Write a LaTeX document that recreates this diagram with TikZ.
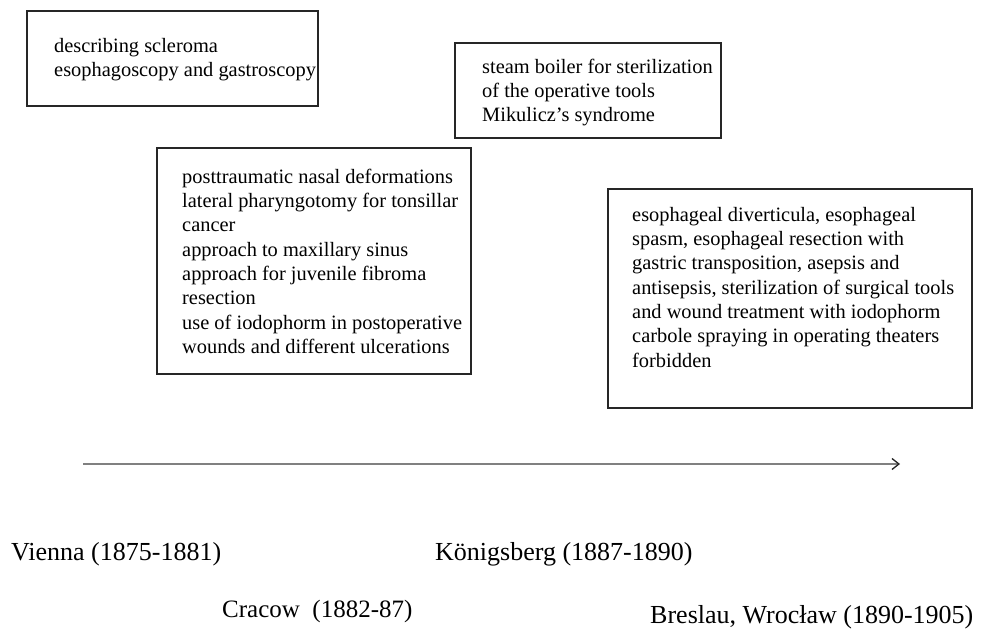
\documentclass[tikz,border=0pt]{standalone}
\usepackage{fontspec}
\setmainfont{Liberation Serif}
\usetikzlibrary{arrows.meta}
\tikzset{
  boxframe/.style={draw=black!85, line width=1.2pt, rectangle, inner sep=0pt},
  boxtext/.style={anchor=north west, inner sep=0pt, align=left,
    font=\fontsize{20.4}{24.3}\selectfont},
  placetext/.style={anchor=base west, inner sep=0pt,
    font=\fontsize{26}{30}\selectfont},
  timeline/.style={draw=black!50, line width=2pt,
    -{Straight Barb[length=7pt,width=11pt,line width=1.3pt,color=black!85]}}
}
\begin{document}
\begin{tikzpicture}[x=1pt,y=-1pt]
\useasboundingbox (0,0) rectangle (983,636);
% boxes
\node[boxframe, minimum width=291pt, minimum height=95pt] (b1) at (172.5,58.5) {};
\node[boxframe, minimum width=266pt, minimum height=95pt] (b2) at (588,90.5) {};
\node[boxframe, minimum width=314pt, minimum height=226pt] (b3) at (314,261) {};
\node[boxframe, minimum width=364pt, minimum height=219pt] (b4) at (790,298.5) {};
% box texts
\node[boxtext] (t1) at (54,35) {\strut describing scleroma\\esophagoscopy and gastroscopy};
\node[boxtext] (t2) at (482,56) {\strut steam boiler for sterilization\\of the operative tools\\Mikulicz’s syndrome};
\node[boxtext] (t3) at (182,166) {\strut posttraumatic nasal deformations\\lateral pharyngotomy for tonsillar\\cancer\\approach to maxillary sinus\\approach for juvenile fibroma\\resection\\use of iodophorm in postoperative\\wounds and different ulcerations};
\node[boxtext] (t4) at (632,204) {\strut esophageal diverticula, esophageal\\spasm, esophageal resection with\\gastric transposition, asepsis and\\antisepsis, sterilization of surgical tools\\and wound treatment with iodophorm\\carbole spraying in operating theaters\\forbidden};
% timeline
\coordinate (tl0) at (83,464);
\coordinate (tl1) at (900,464);
\draw[timeline] (tl0) -- (tl1);
% places
\node[placetext] (p1) at (11,560) {Vienna (1875-1881)};
\node[placetext] (p2) at (435,560) {Königsberg (1887-1890)};
\node[placetext, font=\fontsize{25}{30}\selectfont] (p3) at (222,617) {Cracow\ \ (1882-87)};
\node[placetext] (p4) at (650,623) {Breslau, Wrocław (1890-1905)};
\end{tikzpicture}
\end{document}
